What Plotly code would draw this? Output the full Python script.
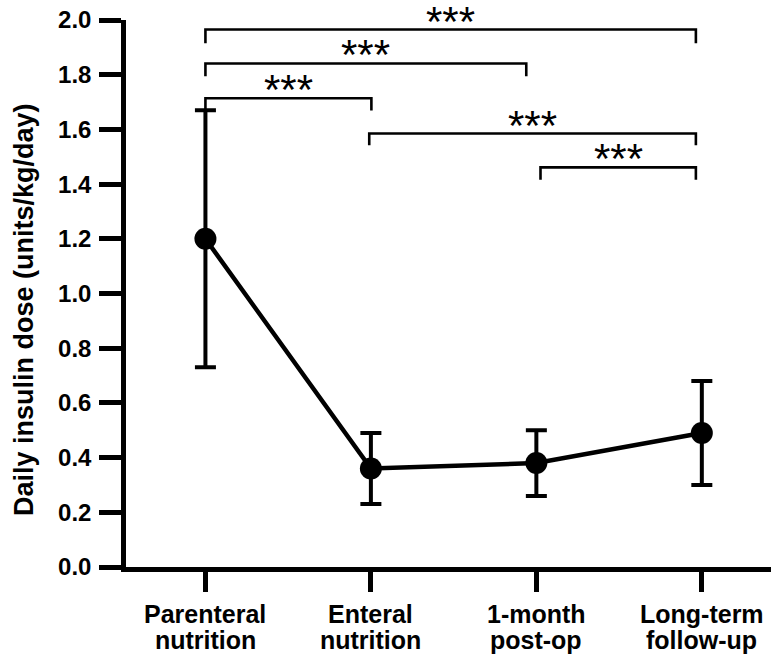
import plotly.graph_objects as go

# ---------------- data ----------------
label_line1 = ["Parenteral", "Enteral", "1-month", "Long-term"]
label_line2 = ["nutrition", "nutrition", "post-op", "follow-up"]
means = [1.20, 0.36, 0.38, 0.49]
errors = [0.47, 0.13, 0.12, 0.19]

y_tick_vals = [0.0, 0.2, 0.4, 0.6, 0.8, 1.0, 1.2, 1.4, 1.6, 1.8, 2.0]
y_tick_text = ["0.0", "0.2", "0.4", "0.6", "0.8", "1.0", "1.2", "1.4", "1.6", "1.8", "2.0"]

# significance brackets (x in category units, y in data units)
bracket_left = [0.0, 0.0, 0.0, 0.99, 2.025]
bracket_right = [2.964, 1.939, 1.003, 2.964, 2.964]
bracket_top = [1.965, 1.841, 1.714, 1.585, 1.461]
bracket_drop = [0.050, 0.047, 0.045, 0.043, 0.045]
bracket_labels = ["***", "***", "***", "***", "***"]

y_title = "Daily insulin dose (units/kg/day)"

FONT = "Arial, Liberation Sans, Helvetica, sans-serif"
x_pos = list(range(len(means)))

fig = go.Figure()
fig.add_trace(go.Scatter(
    x=x_pos, y=means,
    mode="lines+markers",
    line=dict(color="black", width=4.5),
    marker=dict(color="black", size=22),
    error_y=dict(type="data", array=errors, visible=True,
                 color="black", thickness=4, width=10.5),
    showlegend=False, cliponaxis=False,
))

for l, r, t, d in zip(bracket_left, bracket_right, bracket_top, bracket_drop):
    fig.add_shape(type="path", xref="x", yref="y",
                  path=f"M {l},{t-d} L {l},{t} L {r},{t} L {r},{t-d}",
                  line=dict(color="black", width=2.6))

for l, r, t, lab in zip(bracket_left, bracket_right, bracket_top, bracket_labels):
    fig.add_annotation(x=(l + r) / 2, y=t, xref="x", yref="y", text=lab,
                       showarrow=False, yanchor="bottom", xanchor="center",
                       yshift=-17,
                       font=dict(family=FONT, size=42, color="black"))

# two-line category labels
for xp, a, b in zip(x_pos, label_line1, label_line2):
    fig.add_annotation(x=xp, y=-0.0858, xref="x", yref="paper", text=a,
                       showarrow=False, xanchor="center", yanchor="middle",
                       font=dict(family=FONT, size=25, color="black", weight="bold"))
    fig.add_annotation(x=xp, y=-0.1335, xref="x", yref="paper", text=b,
                       showarrow=False, xanchor="center", yanchor="middle",
                       font=dict(family=FONT, size=25, color="black", weight="bold"))

fig.add_annotation(x=-0.157, y=0.471, xref="paper", yref="paper", text=y_title,
                   textangle=-90, showarrow=False, xanchor="center", yanchor="middle",
                   font=dict(family=FONT, size=27, color="black", weight="bold"))

fig.update_layout(
    width=771, height=654,
    margin=dict(l=125.5, r=0, t=19.5, b=87, pad=0),
    paper_bgcolor="white", plot_bgcolor="white",
    font=dict(family=FONT, color="black"),
)
fig.update_xaxes(
    range=[-0.48, 3.418], automargin=False,
    tickmode="array", tickvals=x_pos, showticklabels=False,
    showline=True, linecolor="black", linewidth=4.5,
    ticks="outside", ticklen=20, tickwidth=4.5, tickcolor="black",
    showgrid=False, zeroline=False,
)
fig.update_yaxes(
    range=[0, 2.0], automargin=False,
    tickmode="array", tickvals=y_tick_vals, ticktext=y_tick_text,
    showline=True, linecolor="black", linewidth=4.5,
    ticks="outside", ticklen=22, tickwidth=4.5, tickcolor="black",
    ticklabelstandoff=3,
    showgrid=False, zeroline=False,
    tickfont=dict(family=FONT, size=24, color="black", weight="bold"),
)

fig.write_html("out.html")
